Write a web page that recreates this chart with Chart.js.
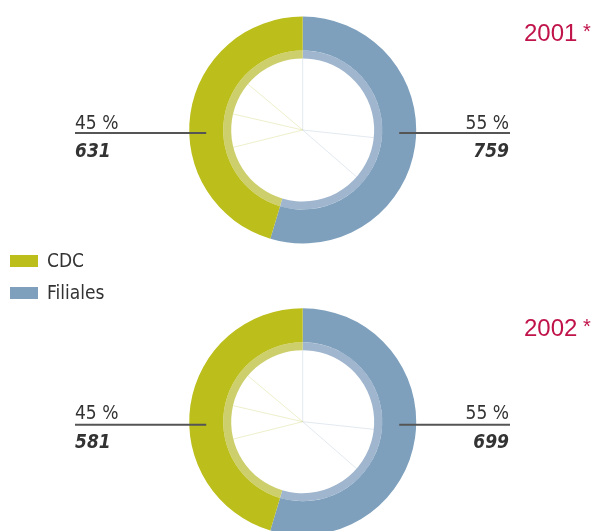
<!DOCTYPE html>
<html>
<head>
<meta charset="utf-8">
<script src="https://cdn.jsdelivr.net/npm/chart.js@4.4.1/dist/chart.umd.min.js"></script>
<style>
  html, body { margin: 0; padding: 0; background: #fff; overflow: hidden; }
  body { width: 597px; height: 531px; position: relative; }
  .wrap { position: absolute; left: 0; width: 597px; }
  .txt { position: absolute; white-space: nowrap; line-height: 1; color: #333; }
  .lab { font-family: "Liberation Sans Narrow", "DejaVu Sans Condensed", "Liberation Sans", sans-serif; }
  .year { font-family: "Liberation Sans", Arial, sans-serif; color: #C0134A; }
  .sw { position: absolute; width: 28px; height: 12px; }
</style>
</head>
<body>
<div class="wrap" style="top:0;height:262px"><canvas id="c1"></canvas></div>
<div class="wrap" style="top:262px;height:300px"><canvas id="c2"></canvas></div>
<div id="overlay"></div>
<script>
// ---- data ----
const categories = ['CDC', 'Filiales'];
const years = ['2001', '2002'];
const values2001 = [631, 759];
const values2002 = [581, 699];
const percents2001 = [45, 55];
const percents2002 = [45, 55];
// faint sub-division of the inner disc (share of circle, clockwise from top)
const innerFiliales = [26.7, 9.7, 18.6];
const innerCDC = [16.1, 7.5, 7.5, 13.9];

const colors = { CDC: '#BBBE1B', Filiales: '#7EA0BD' };
const lightColors = { CDC: '#CDCF6C', Filiales: '#A0B6CE' };
const innerLine = { CDC: 'rgba(205,208,110,0.35)', Filiales: 'rgba(160,182,206,0.30)' };

const leaderPlugin = {
  id: 'leaders',
  afterDatasetsDraw(chart) {
    const ctx = chart.ctx;
    // faint radial lines at the inner sub-division boundaries
    const meta = chart.getDatasetMeta(2);
    ctx.save();
    ctx.lineWidth = 1;
    meta.data.forEach((a, i) => {
      if (i === innerFiliales.length) return; // no line at the CDC / Filiales boundary
      const p = a.getProps(['x', 'y', 'startAngle', 'outerRadius'], true);
      ctx.strokeStyle = i < innerFiliales.length ? innerLine.Filiales : innerLine.CDC;
      ctx.beginPath();
      ctx.moveTo(p.x, p.y);
      ctx.lineTo(p.x + Math.cos(p.startAngle) * p.outerRadius, p.y + Math.sin(p.startAngle) * p.outerRadius);
      ctx.stroke();
    });
    ctx.restore();

    const arc = chart.getDatasetMeta(0).data[0];
    if (!arc) return;
    const { x, y, innerRadius, outerRadius } = arc.getProps(['x', 'y', 'innerRadius', 'outerRadius'], true);
    const mid = (innerRadius + outerRadius) / 2;
    ctx.save();
    ctx.strokeStyle = '#555';
    ctx.lineWidth = 2;
    ctx.beginPath();
    ctx.moveTo(75, y + 3); ctx.lineTo(x - mid, y + 3);
    ctx.moveTo(x + mid, y + 3); ctx.lineTo(510, y + 3);
    ctx.stroke();
    ctx.restore();
  }
};

function makeChart(id, values, padTop, padBottom) {
  // clockwise from top: Filiales first, then CDC
  const order = ['Filiales', 'CDC'];
  const data = order.map(k => values[categories.indexOf(k)]);
  const inner = innerFiliales.concat(innerCDC);
  return new Chart(document.getElementById(id), {
    type: 'doughnut',
    data: {
      labels: order,
      datasets: [
        { data, backgroundColor: order.map(k => colors[k]), borderWidth: 0, weight: 34 },
        { data, backgroundColor: order.map(k => lightColors[k]), borderWidth: 0, weight: 8 },
        { data: inner, backgroundColor: '#ffffff', borderWidth: 0, weight: 71.5 }
      ]
    },
    options: {
      responsive: true,
      maintainAspectRatio: false,
      animation: false,
      events: [],
      cutout: 0,
      layout: { padding: { left: 8.4, right: 0, top: padTop, bottom: padBottom } },
      plugins: { legend: { display: false }, tooltip: { enabled: false } }
    },
    plugins: [leaderPlugin]
  });
}

makeChart('c1', values2001, 16.5, 18.5);
makeChart('c2', values2002, 46.2, 26.8);

// ---- text overlay ----
const ov = document.getElementById('overlay');
function txt(text, cls, left, baseline, size, extra) {
  const d = document.createElement('div');
  d.className = 'txt ' + cls;
  d.textContent = text;
  d.style.fontSize = size + 'px';
  d.style.top = (baseline - 0.8465 * size) + 'px';
  if (extra && extra.right !== undefined) {
    d.style.left = (extra.right - 200) + 'px';
    d.style.width = '200px';
    d.style.textAlign = 'right';
  } else {
    d.style.left = left + 'px';
  }
  if (extra && extra.style) Object.assign(d.style, extra.style);
  ov.appendChild(d);
  return d;
}
const boldIt = { style: { fontWeight: 'bold', fontStyle: 'italic' } };
[[percents2001, values2001, 0], [percents2002, values2002, 290.5]].forEach(([pc, val, dy], idx) => {
  const iC = categories.indexOf('CDC'), iF = categories.indexOf('Filiales');
  txt(pc[iC] + ' %', 'lab', 75, 128.7 + dy, 19);
  txt(String(val[iC]), 'lab', 75, 157.3 + dy, 19, boldIt);
  txt(pc[iF] + ' %', 'lab', 0, 128.7 + dy, 19, { right: 509 });
  txt(String(val[iF]), 'lab', 0, 157.3 + dy, 19, { right: 509, style: boldIt.style });
  const y = txt(years[idx], 'year', 524, [41.7, 336][idx], 24);
  const s = document.createElement('span');
  s.textContent = ' *';
  s.style.fontSize = '20px';
  s.style.verticalAlign = '3px';
  y.appendChild(s);
});
// legend
categories.forEach((c, i) => {
  const sw = document.createElement('div');
  sw.className = 'sw';
  sw.style.left = '10px';
  sw.style.top = (255 + i * 32) + 'px';
  sw.style.background = colors[c];
  ov.appendChild(sw);
  txt(c, 'lab', 47, 266.7 + i * 32.3, 19);
});
</script>
</body>
</html>
